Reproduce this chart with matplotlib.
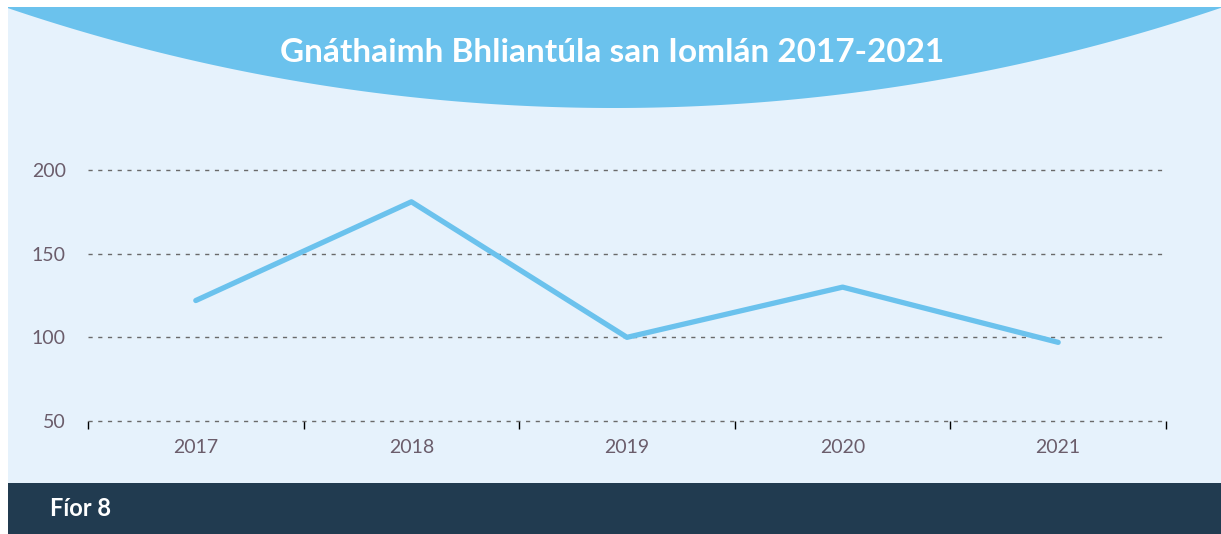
import numpy as np
import matplotlib.pyplot as plt
from matplotlib.patches import Rectangle, Polygon
from matplotlib.ticker import FixedLocator

years = ['2017', '2018', '2019', '2020', '2021']
values = [122, 181, 100, 130, 97]
yticks = [50, 100, 150, 200]

W, H = 1221, 534
fig = plt.figure(figsize=(W / 100, H / 100), dpi=100)
fig.patch.set_facecolor('white')

# background panels, pixel coords with y from the top
bg = fig.add_axes([0, 0, 1, 1])
bg.set_xlim(0, W)
bg.set_ylim(H, 0)
bg.axis('off')
bg.add_patch(Rectangle((8, 7), W - 8, 476, color='#e6f2fc', lw=0))
bg.add_patch(Rectangle((8, 483), W - 8, H - 483, color='#213b50', lw=0))

# title arc
R = 1889.0
cx, cy = 614.0, 108 - R
xs = np.linspace(8, W, 300)
ys = cy + np.sqrt(R ** 2 - (xs - cx) ** 2)
pts = [(8, 7)] + list(zip(xs, ys)) + [(W, 7)]
bg.add_patch(Polygon(pts, closed=True, color='#6bc2ed', lw=0))

bg.text(612, 52, 'Gnáthaimh Bhliantúla san Iomlán 2017-2021', color='white',
        fontsize=24, fontweight='bold', family='Lato', ha='center', va='center')
bg.text(50, 508, 'Fíor 8', color='white', fontsize=17, fontweight='bold',
        family='Lato', ha='left', va='center')

# chart
ax = fig.add_axes([88 / W, (H - 421) / H, (1166 - 88) / W, (421 - 170) / H])
ax.set_facecolor('none')
x = np.arange(len(years))
ax.plot(x, values, color='#6bc2ed', lw=3.8, solid_capstyle='round', clip_on=False, zorder=3)
ax.set_xlim(-0.5, len(years) - 0.5)
ax.set_ylim(50, 200)
ax.set_yticks(yticks)
ax.set_xticks(x)
ax.set_xticklabels(years)
ax.xaxis.set_minor_locator(FixedLocator(np.arange(-0.5, len(years), 1)))
for s in ax.spines.values():
    s.set_visible(False)
ax.grid(axis='y', color='#6a6a6a', lw=1, linestyle=(0, (3, 4)))
for gl in ax.get_ygridlines():
    gl.set_clip_on(False)
ax.set_axisbelow(True)
ax.tick_params(axis='y', length=0, pad=16, labelsize=14, labelcolor='#6b5d6b')
ax.tick_params(axis='x', which='major', length=0, pad=13, labelsize=14, labelcolor='#6b5d6b')
ax.tick_params(axis='x', which='minor', length=6, width=1, color='black', direction='out')
for lab in ax.get_xticklabels() + ax.get_yticklabels():
    lab.set_family('Lato')

fig.savefig('out.png', dpi=100, facecolor='white')
